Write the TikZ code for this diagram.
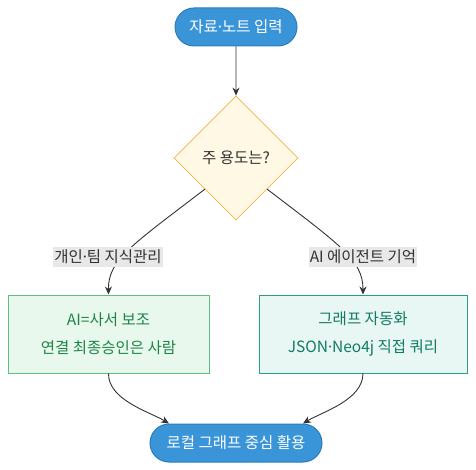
\documentclass[tikz,border=0pt]{standalone}
\usepackage{fontspec}
\setmainfont{Noto Sans CJK KR}
\newfontfamily\latinf{Noto Sans}
\newcommand{\md}{{\latinf ·}}
\usetikzlibrary{shapes.geometric,shapes.misc,arrows.meta}
\definecolor{termfill}{HTML}{3A95D8}
\definecolor{termdraw}{HTML}{2C7DBE}
\definecolor{decfill}{HTML}{FEF8E4}
\definecolor{decdraw}{HTML}{F2B447}
\definecolor{lfill}{HTML}{E9F8EC}
\definecolor{ldraw}{HTML}{5CC083}
\definecolor{ltext}{HTML}{1E8449}
\definecolor{rfill}{HTML}{E8F7F3}
\definecolor{rdraw}{HTML}{2A9D87}
\definecolor{rtext}{HTML}{117A65}
\definecolor{edgecol}{HTML}{333333}
\definecolor{lblfill}{HTML}{E8E8E8}
\tikzset{
  term/.style={rounded rectangle, fill=termfill, draw=termdraw, line width=1pt, text=white, minimum height=38pt, inner xsep=0pt, font=\fontsize{15.5}{18}\selectfont},
  decision/.style={diamond, aspect=1, fill=decfill, draw=decdraw, line width=0.8pt, minimum width=124pt, minimum height=124pt, inner sep=0pt, text=edgecol, font=\fontsize{15.5}{18}\selectfont},
  lbox/.style={rectangle, fill=lfill, draw=ldraw, line width=1pt, text=ltext, minimum width=201pt, minimum height=78pt, align=center, font=\fontsize{15.5}{28}\selectfont},
  rbox/.style={rectangle, fill=rfill, draw=rdraw, line width=1pt, text=rtext, minimum width=208pt, minimum height=78pt, align=center, font=\fontsize{15.5}{28}\selectfont},
  elabel/.style={fill=lblfill, text=edgecol, inner xsep=1pt, inner ysep=3pt, font=\fontsize{15.5}{18}\selectfont},
  conn/.style={draw=edgecol, line width=0.9pt, -{Stealth[length=8pt,width=7pt]}}
}
\begin{document}
\begin{tikzpicture}[x=1pt,y=-1pt]
\useasboundingbox (0,0) rectangle (476,470);
\node[term, minimum width=122pt] (start) at (236,27) {자료\md{}노트 입력};
\node[decision] (dia) at (236,158) {주 용도는?};
\node[lbox] (left) at (108.5,334) {AI=사서 보조\\연결 최종승인은 사람};
\node[rbox] (right) at (363,334) {그래프 자동화\\JSON\md{}Neo4j 직접 쿼리};
\node[term, minimum width=172pt] (end) at (236,443) {로컬 그래프 중심 활용};
\draw[conn] (start) -- (dia);
\draw[conn] (dia.south west) .. controls (132,245) and (108,260) .. (left.north);
\draw[conn] (dia.south east) .. controls (340,245) and (363,260) .. (right.north);
\node[elabel] (l1) at (108,257) {개인\md{}팀 지식관리};
\node[elabel] (l2) at (363,257) {AI 에이전트 기억};
\draw[conn] (left.south) .. controls (108,400) and (150,412) .. (end.north west);
\draw[conn] (right.south) .. controls (363,400) and (322,412) .. (end.north east);
\end{tikzpicture}
\end{document}
